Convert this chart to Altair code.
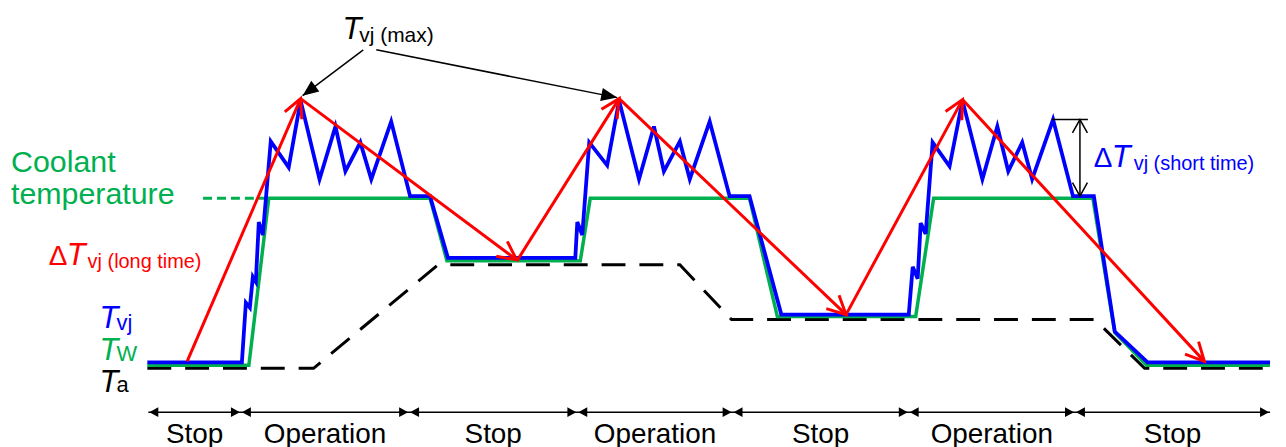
import altair as alt
import pandas as pd
import numpy as np

# ---------------- data (time t, temperature T; arbitrary schematic units) ----------------
# Ambient temperature Ta (black dashed)
ta_t = [148, 315, 440, 683, 735, 1100, 1150, 1276]
ta_T = [78, 78, 182, 182, 127, 127, 78, 78]

# Coolant temperature Tw (green)
tw_t = [148, 250, 270, 432, 449, 583, 593, 753, 781, 920, 938, 1098, 1120, 1152, 1276]
tw_T = [81, 81, 249, 249, 186, 186, 249, 249, 130, 130, 249, 249, 114, 81, 81]

# Coolant temperature label leader (green dashed)
lead_t = [204, 268]
lead_T = [249, 249]

# Junction temperature Tvj (blue)
tvj_t = [148, 243, 247, 251, 254, 257, 260, 264, 272, 290, 302, 321, 337, 347, 362, 373, 393, 412, 432, 450,
         578, 580, 585, 592, 610, 622, 642, 657, 667, 683, 693, 713, 733, 753, 785,
         913, 917, 922, 925, 930, 937, 954, 967, 987, 1002, 1013, 1027, 1037, 1058, 1078, 1099, 1120, 1153, 1276]
tvj_T = [84, 84, 144, 139, 170, 165, 225, 212, 306, 280, 347, 268, 321, 276, 305, 268, 326, 251, 251, 189,
         189, 225, 212, 305, 282, 347, 268, 321, 276, 306, 268, 326, 251, 251, 132,
         132, 180, 168, 224, 213, 305, 281, 347, 268, 321, 276, 305, 268, 328, 251, 251, 115, 84, 84]

# Long-time swing arrows (red)
red_t0 = [188, 302, 520, 622, 850, 967]
red_T0 = [85, 349, 187, 349, 132, 348]
red_t1 = [302, 519, 622, 850, 967, 1210]
red_T1 = [349, 187, 349, 132, 348, 85]

# Tvj(max) pointer arrows (black)
max_t0 = [365, 378]
max_T0 = [398, 398]
max_t1 = [304, 620]
max_T1 = [352, 350]

# Short-time swing marker
short_t = 1085
short_top = 328
short_bot = 251
short_tick_t = [1057, 1093]

# Operating phases along the bottom
phase_edges = [149, 242, 411, 580, 736, 913, 1080, 1276]
phase_names = ["Stop", "Operation", "Stop", "Operation", "Stop", "Operation", "Stop"]
phase_T = 34
phase_label_T = 3

# Annotation text
ital_text = ["T", "T", "T", "T", "T", "T"]
ital_t = [344, 67, 1117, 100, 100, 100]
ital_T = [409, 182, 280, 119, 86, 54]
ital_col = ["black", "red", "blue", "blue", "green", "black"]

delta_t = [49, 1099]
delta_T = [182, 280]
delta_col = ["red", "blue"]

sub_text = ["vj (max)", "vj (long time)", "vj (short time)", "vj", "W", "a"]
sub_t = [361, 88, 1139, 117, 117, 117]
sub_T = [406, 179, 277, 117, 85, 54]
sub_col = ["black", "red", "blue", "blue", "green", "black"]
sub_size = [21, 20, 20, 22, 22, 22]

cool_text = ["Coolant", "temperature"]
cool_t = [11, 11]
cool_T = [275, 243]

# ---------------- styling ----------------
BLUE = "#0000FF"
GREEN = "#00B050"
RED = "#FF0000"
COLMAP = {"black": "#000000", "red": RED, "blue": BLUE, "green": GREEN}
FONT = "Liberation Sans"

XS = alt.Scale(domain=[8, 1278], nice=False, zero=False)
YS = alt.Scale(domain=[0, 439], nice=False, zero=False)
X = alt.X("t:Q", scale=XS, axis=None)
Y = alt.Y("T:Q", scale=YS, axis=None)
X2 = alt.X("t2:Q", scale=XS, axis=None)
Y2 = alt.Y("T2:Q", scale=YS, axis=None)


def line_df(t, T):
    return pd.DataFrame({"t": t, "T": T, "i": range(len(t))})


def angles(t0, T0, t1, T1):
    a = np.degrees(np.arctan2(np.array(t1) - np.array(t0), np.array(T1) - np.array(T0)))
    return np.mod(a, 360)


ta = alt.Chart(line_df(ta_t, ta_T)).mark_line(
    color="black", strokeWidth=3, strokeDash=[24, 14]).encode(x=X, y=Y, order="i:Q")
lead = alt.Chart(line_df(lead_t, lead_T)).mark_line(
    color=GREEN, strokeWidth=3, strokeDash=[9, 5]).encode(x=X, y=Y, order="i:Q")
tw = alt.Chart(line_df(tw_t, tw_T)).mark_line(
    color=GREEN, strokeWidth=3.5).encode(x=X, y=Y, order="i:Q")
tvj = alt.Chart(line_df(tvj_t, tvj_T)).mark_line(
    color=BLUE, strokeWidth=3.8, strokeJoin="miter").encode(x=X, y=Y, order="i:Q")

red_df = pd.DataFrame({"t": red_t0, "T": red_T0, "t2": red_t1, "T2": red_T1,
                       "ang": angles(red_t0, red_T0, red_t1, red_T1)})
red_lines = alt.Chart(red_df).mark_rule(color=RED, strokeWidth=3).encode(
    x=X, y=Y, x2="t2:Q", y2="T2:Q")
red_heads = alt.Chart(red_df).mark_point(
    shape="M-0.45,0.9L0,0L0.45,0.9", size=1700, color=RED, strokeWidth=3,
    filled=False, opacity=1).encode(
    x=X2, y=Y2, angle=alt.Angle("ang:Q", scale=None))

max_df = pd.DataFrame({"t": max_t0, "T": max_T0, "t2": max_t1, "T2": max_T1,
                       "ang": angles(max_t0, max_T0, max_t1, max_T1)})
max_lines = alt.Chart(max_df).mark_rule(color="black", strokeWidth=1.5).encode(
    x=X, y=Y, x2="t2:Q", y2="T2:Q")
max_heads = alt.Chart(max_df).mark_point(
    shape="M0,0L-0.42,1L0.42,1Z", size=1024, color="black", filled=True,
    opacity=1, strokeWidth=0).encode(
    x=X2, y=Y2, angle=alt.Angle("ang:Q", scale=None))

short_df = pd.DataFrame({"t": [short_t], "T": [short_top], "T2": [short_bot]})
short_line = alt.Chart(short_df).mark_rule(color="black", strokeWidth=1.5).encode(
    x=X, y=Y, y2="T2:Q")
tick_df = pd.DataFrame({"t": [short_tick_t[0]], "t2": [short_tick_t[1]], "T": [short_top]})
short_tick = alt.Chart(tick_df).mark_rule(color="black", strokeWidth=1.5).encode(
    x=X, x2="t2:Q", y=Y)
sh_heads_df = pd.DataFrame({"t": [short_t, short_t], "T": [short_top, short_bot], "ang": [0, 180]})
short_heads = alt.Chart(sh_heads_df).mark_point(
    shape="M-0.5,0.9L0,0L0.5,0.9", size=900, color="black", strokeWidth=1.5,
    filled=False, opacity=1).encode(x=X, y=Y, angle=alt.Angle("ang:Q", scale=None))

# phase timeline
tl_df = pd.DataFrame({"t": [phase_edges[0]], "t2": [phase_edges[-1]], "T": [phase_T]})
timeline = alt.Chart(tl_df).mark_rule(color="black", strokeWidth=1.5).encode(
    x=X, x2="t2:Q", y=Y)
ph_t, ph_a = [], []
for k, e in enumerate(phase_edges):
    if k > 0:
        ph_t.append(e - 1)
        ph_a.append(90)
    if k < len(phase_edges) - 1:
        ph_t.append(e + 1)
        ph_a.append(270)
ph_df = pd.DataFrame({"t": ph_t, "T": [phase_T] * len(ph_t), "ang": ph_a})
ph_heads = alt.Chart(ph_df).mark_point(
    shape="M0,0L-0.55,1L0.55,1Z", size=324, color="black", filled=True,
    opacity=1, strokeWidth=0).encode(x=X, y=Y, angle=alt.Angle("ang:Q", scale=None))
mids = [(a + b) / 2 for a, b in zip(phase_edges[:-1], phase_edges[1:])]
lab_df = pd.DataFrame({"t": mids, "T": [phase_label_T] * len(mids), "txt": phase_names})
ph_labels = alt.Chart(lab_df).mark_text(
    font=FONT, fontSize=28, align="center", baseline="alphabetic", color="black").encode(
    x=X, y=Y, text="txt:N")

# annotation texts
ital_df = pd.DataFrame({"t": ital_t, "T": ital_T, "txt": ital_text,
                        "c": [COLMAP[c] for c in ital_col]})
ital = alt.Chart(ital_df).mark_text(
    font=FONT, fontSize=31, fontStyle="italic", align="left", baseline="alphabetic").encode(
    x=X, y=Y, text="txt:N", color=alt.Color("c:N", scale=None))
delta_df = pd.DataFrame({"t": delta_t, "T": delta_T, "txt": ["\u0394"] * len(delta_t),
                         "c": [COLMAP[c] for c in delta_col]})
delta = alt.Chart(delta_df).mark_text(
    font=FONT, fontSize=28, align="left", baseline="alphabetic").encode(
    x=X, y=Y, text="txt:N", color=alt.Color("c:N", scale=None))
sub_df = pd.DataFrame({"t": sub_t, "T": sub_T, "txt": sub_text,
                       "c": [COLMAP[c] for c in sub_col], "s": sub_size})
subs = alt.Chart(sub_df).mark_text(
    font=FONT, align="left", baseline="alphabetic").encode(
    x=X, y=Y, text="txt:N", color=alt.Color("c:N", scale=None),
    size=alt.Size("s:Q", scale=None))
cool_df = pd.DataFrame({"t": cool_t, "T": cool_T, "txt": cool_text})
cool = alt.Chart(cool_df).mark_text(
    font=FONT, fontSize=30.5, align="left", baseline="alphabetic", color=GREEN).encode(
    x=X, y=Y, text="txt:N")

chart = alt.layer(
    ta, lead, tw, tvj, red_lines, red_heads, max_lines, max_heads,
    short_line, short_tick, short_heads, timeline, ph_heads, ph_labels,
    ital, delta, subs, cool
).properties(width=1270, height=439, padding=0, background="white"
).configure_view(strokeWidth=0)

chart.save("out.html", embed_options={"renderer": "svg", "actions": False})
